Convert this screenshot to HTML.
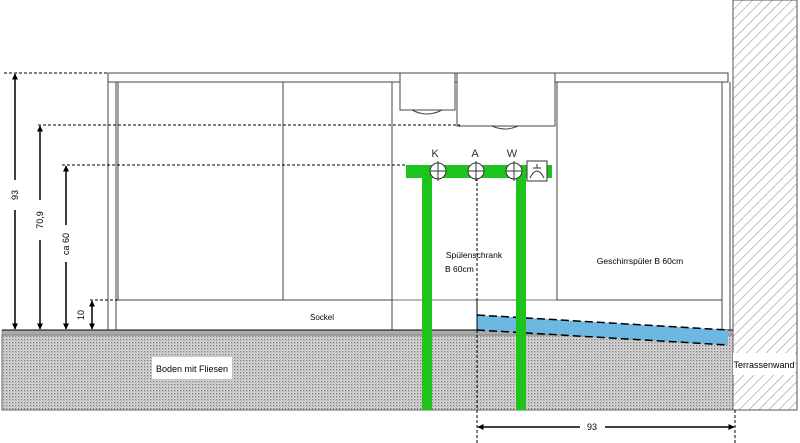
<!DOCTYPE html>
<html><head><meta charset="utf-8"><style>body{margin:0;background:#fff}svg{display:block}text{font-family:"Liberation Sans",sans-serif}</style></head>
<body>
<svg width="800" height="443" viewBox="0 0 800 443" xmlns="http://www.w3.org/2000/svg">
<defs>
<pattern id="dots" width="3" height="3" patternUnits="userSpaceOnUse"><rect width="3" height="3" fill="#dadada"/><rect x="0" y="0" width="1.3" height="1.3" fill="#777"/><rect x="1.5" y="1.5" width="1" height="1" fill="#999"/></pattern>
<pattern id="hatch" width="7" height="7" patternUnits="userSpaceOnUse" patternTransform="rotate(45)"><rect width="7" height="7" fill="#fff"/><line x1="0" y1="0" x2="0" y2="7" stroke="#999" stroke-width="1.2"/></pattern>
<marker id="ar" markerWidth="6" markerHeight="6" refX="5.5" refY="3" orient="auto" markerUnits="userSpaceOnUse"><path d="M0,0 L6,3 L0,6 z" fill="#000"/></marker>
</defs>
<rect x="733" y="0" width="64" height="410" fill="url(#hatch)" stroke="#555"/>
<rect x="2" y="335" width="731" height="75" fill="url(#dots)" stroke="#666"/>
<rect x="2" y="330" width="731" height="5" fill="#aaa" stroke="#666" stroke-width="0.5"/>
<line x1="2" y1="330" x2="733" y2="330" stroke="#000" stroke-width="1"/>
<rect x="152" y="357" width="80" height="22" fill="#fff"/>
<text x="192" y="372" font-size="9" text-anchor="middle">Boden mit Fliesen</text>
<rect x="733" y="353" width="62" height="22" fill="#fff"/>
<text x="764" y="368" font-size="9" text-anchor="middle">Terrassenwand</text>
<rect x="108" y="73" width="620" height="9" fill="#fff" stroke="#444"/>
<line x1="108" y1="82" x2="108" y2="330" stroke="#444"/>
<line x1="116" y1="82" x2="116" y2="330" stroke="#444"/>
<line x1="722" y1="82" x2="722" y2="330" stroke="#444"/>
<line x1="730" y1="82" x2="730" y2="330" stroke="#444"/>
<line x1="392" y1="82" x2="392" y2="330" stroke="#444"/>
<rect x="118" y="82" width="165" height="218" fill="#fff" stroke="#444"/>
<rect x="283" y="82" width="109" height="218" fill="#fff" stroke="#444"/>
<rect x="557" y="82" width="165" height="218" fill="#fff" stroke="#444"/>
<line x1="392" y1="300" x2="722" y2="300" stroke="#444" stroke-width="0.8"/>
<text x="322" y="320" font-size="8" text-anchor="middle">Sockel</text>
<rect x="400" y="73" width="55" height="37" fill="#fff" stroke="#444"/>
<path d="M412,110 Q427,118 442,110" fill="none" stroke="#444"/>
<rect x="457" y="73" width="98" height="53" fill="#fff" stroke="#444"/>
<path d="M492,126 Q505,132 518,126" fill="none" stroke="#444"/>
<text x="474" y="258" font-size="8.5" text-anchor="middle">Spülenschrank</text>
<text x="445" y="272" font-size="8.5">B 60cm</text>
<text x="640" y="264" font-size="8.5" text-anchor="middle">Geschirrspüler B 60cm</text>
<polygon points="477,315 728,330 728,345 477,330" fill="#6db8e0"/>
<path d="M477,315 L728,330 M477,330 L728,345" stroke="#000" stroke-dasharray="8,4" stroke-width="1.5" fill="none"/>
<rect x="406" y="165" width="146" height="13" fill="#1ec31e"/>
<rect x="422" y="178" width="10" height="232" fill="#1ec31e"/>
<rect x="516" y="178" width="10" height="232" fill="#1ec31e"/>
<line x1="477" y1="178" x2="477" y2="330" stroke="#000" stroke-dasharray="3,2"/>
<line x1="477" y1="300" x2="477" y2="443" stroke="#000" stroke-dasharray="3,2"/>
<line x1="735" y1="410" x2="735" y2="443" stroke="#000" stroke-dasharray="3,2"/>
<g fill="#fff" stroke="#333">
<circle cx="438" cy="171" r="8"/><circle cx="476" cy="171" r="8"/><circle cx="514" cy="171" r="8"/>
</g>
<g stroke="#333"><line x1="438" y1="161" x2="438" y2="181"/><line x1="430" y1="171" x2="446" y2="171"/>
<line x1="476" y1="161" x2="476" y2="181"/><line x1="468" y1="171" x2="484" y2="171"/>
<line x1="514" y1="161" x2="514" y2="181"/><line x1="506" y1="171" x2="522" y2="171"/></g>
<rect x="527" y="161" width="20" height="20" fill="#fff" stroke="#333"/>
<path d="M530,178 Q537,164 544,178 M537,168 L537,164 M533,168 L541,168" fill="none" stroke="#333"/>
<text x="435" y="157" font-size="11" text-anchor="middle" fill="#234">K</text>
<text x="475" y="157" font-size="11" text-anchor="middle" fill="#234">A</text>
<text x="512" y="157" font-size="11" text-anchor="middle" fill="#234">W</text>
<g stroke="#000" stroke-dasharray="3,2">
<line x1="4" y1="73" x2="108" y2="73"/>
<line x1="38" y1="125" x2="460" y2="125"/>
<line x1="62" y1="165" x2="406" y2="165"/>
<line x1="90" y1="300" x2="118" y2="300"/>
</g>
<g stroke="#000" stroke-width="1.5">
<line x1="15" y1="180" x2="15" y2="74" marker-end="url(#ar)"/><line x1="15" y1="210" x2="15" y2="329" marker-end="url(#ar)"/>
<line x1="40" y1="200" x2="40" y2="126" marker-end="url(#ar)"/><line x1="40" y1="240" x2="40" y2="329" marker-end="url(#ar)"/>
<line x1="66" y1="225" x2="66" y2="166" marker-end="url(#ar)"/><line x1="66" y1="262" x2="66" y2="329" marker-end="url(#ar)"/>
<line x1="92" y1="315" x2="92" y2="301" marker-end="url(#ar)"/><line x1="92" y1="315" x2="92" y2="329" marker-end="url(#ar)"/>
<line x1="580" y1="427" x2="478" y2="427" marker-end="url(#ar)"/><line x1="605" y1="427" x2="734" y2="427" marker-end="url(#ar)"/>
</g>
<g font-size="9" text-anchor="middle">
<text transform="translate(18,195) rotate(-90)">93</text>
<text transform="translate(43,220) rotate(-90)">70,9</text>
<text transform="translate(69,244) rotate(-90)">ca 60</text>
<text transform="translate(84,315) rotate(-90)">10</text>
<text x="592" y="430">93</text>
</g>
</svg>
</body></html>
